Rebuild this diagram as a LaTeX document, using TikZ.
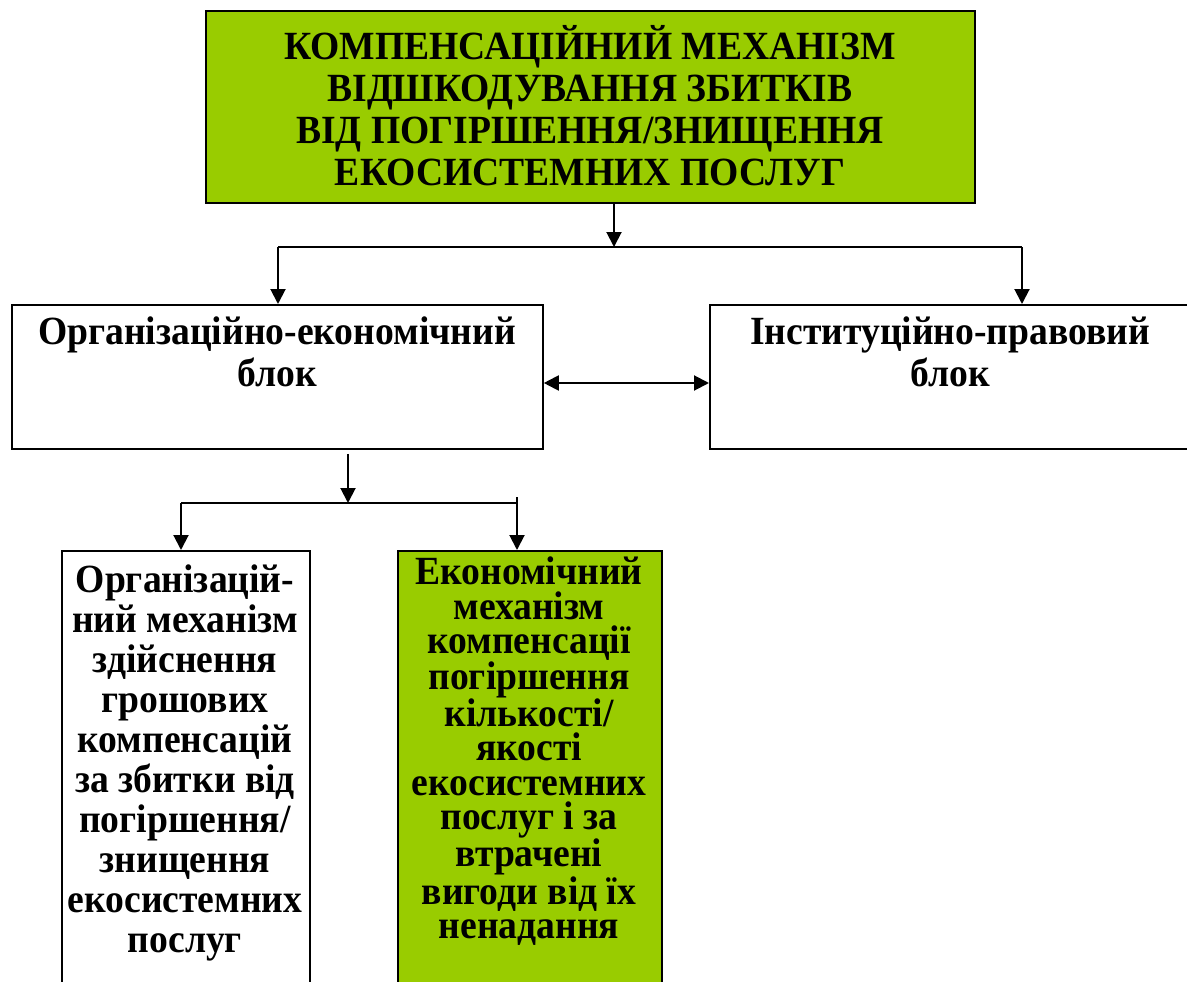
\documentclass[tikz,border=0pt]{standalone}
\usepackage{fontspec}
\setmainfont{Liberation Serif}[FakeStretch=0.94]
\usetikzlibrary{arrows.meta}
\definecolor{leaf}{HTML}{99CC00}
\tikzset{
  box/.style={draw=black, line width=1.8pt, inner sep=0pt, anchor=north west},
  txt/.style={align=center, inner sep=0pt, anchor=north, font=\bfseries\fontsize{40}{42}\selectfont},
  head/.tip={Triangle[length=15pt,width=15pt]},
  link/.style={line width=2pt, -head},
  twoway/.style={line width=2pt, head-head},
  wire/.style={line width=2pt}
}
\begin{document}
\begin{tikzpicture}[x=1pt,y=-1pt]
\useasboundingbox (0,0) rectangle (1187,982);
\clip (0,0) rectangle (1187,982);
\fill[white] (0,0) rectangle (1187,982);

% top block
\node[box, fill=leaf, minimum width=769pt, minimum height=192pt] (top) at (205,10) {};
\node[txt] (toptxt) at (590,25)
  {КОМПЕНСАЦІЙНИЙ МЕХАНІЗМ\\ВІДШКОДУВАННЯ ЗБИТКІВ\\ВІД ПОГІРШЕННЯ/ЗНИЩЕННЯ\\ЕКОСИСТЕМНИХ ПОСЛУГ};

% second level
\node[box, minimum width=531pt, minimum height=144pt] (org) at (11,304) {};
\node[txt] (orgtxt) at (277,317) {Організаційно-економічний\\блок};
\node[box, minimum width=500pt, minimum height=144pt] (inst) at (709,304) {};
\node[txt] (insttxt) at (950,317) {Інституційно-правовий\\блок};

% third level
\node[box, minimum width=248pt, minimum height=460pt] (orgm) at (61,550) {};
\node[txt, font=\bfseries\fontsize{40}{40}\selectfont] (orgmtxt) at (185,565)
  {Організацій-\\ний механізм\\здійснення\\грошових\\компенсацій\\за збитки від\\погіршення/\\знищення\\екосистемних\\послуг};
\node[box, fill=leaf, minimum width=264pt, minimum height=460pt] (ecm) at (397,550) {};
\node[txt, font=\bfseries\fontsize{40}{34.3}\selectfont] (ecmtxt) at (529,557)
  {Економічний\\механізм\\компенсації\\погіршення\\кількості/\\якості\\екосистемних\\послуг і за\\втрачені\\вигоди від їх\\ненадання};

% junction points
\coordinate (j1) at (614,247);
\coordinate (jl) at (278,247);
\coordinate (jr) at (1022,247);
\coordinate (k1) at (348,503);
\coordinate (kl) at (181,503);
\coordinate (kr) at (517,503);

% connectors
\draw[link] (top.south -| j1) -- (j1);
\draw[wire] (jl) -- (jr);
\draw[link] (jl) -- (jl |- org.north);
\draw[link] (jr) -- (jr |- inst.north);
\draw[twoway] (org.east |- 0,383) -- (inst.west |- 0,383);
\draw[link] ([yshift=-4pt]org.south -| k1) -- (k1);
\draw[wire] (kl) -- (kr);
\draw[wire] (kr) -- ++(0,-6);
\draw[link] (kl) -- (kl |- orgm.north);
\draw[link] (kr) -- (kr |- ecm.north);
\end{tikzpicture}
\end{document}
